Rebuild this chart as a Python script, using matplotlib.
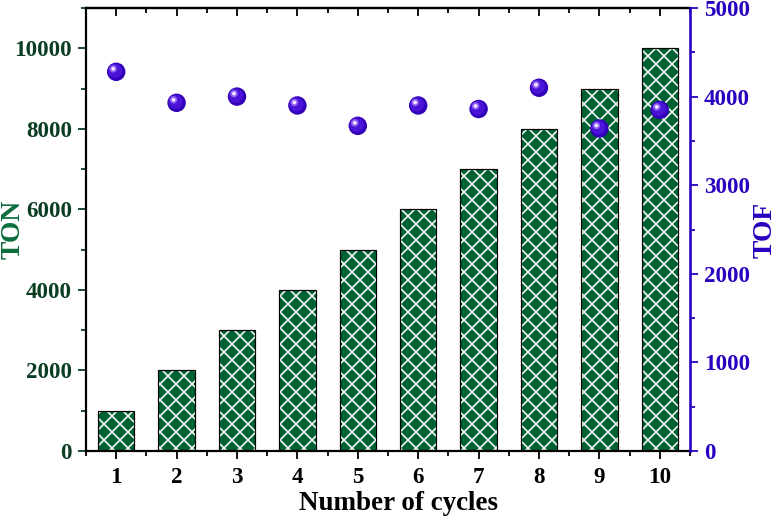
import matplotlib
matplotlib.use("Agg")
import matplotlib.pyplot as plt
import matplotlib.transforms as mtransforms
from matplotlib.ticker import MultipleLocator

cycles = [1, 2, 3, 4, 5, 6, 7, 8, 9, 10]
ton = [1000, 2000, 3000, 4000, 5000, 6000, 7000, 8000, 9000, 10000]
tof = [4280, 3930, 4000, 3900, 3670, 3900, 3860, 4100, 3640, 3850]

DPI = 144
plt.rcParams['font.family'] = ['Liberation Serif', 'DejaVu Serif']
plt.rcParams['font.weight'] = 'bold'
plt.rcParams['hatch.linewidth'] = 0.8
plt.rcParams['hatch.color'] = 'white'

green = '#006232'
green_lbl = '#0b6e3c'
green_tick = '#0a3d22'
blue = '#2a00c0'

fig = plt.figure(figsize=(780 / DPI, 518 / DPI), dpi=DPI)
ax = fig.add_axes([86 / 780, (518 - 451) / 518, (690 - 86) / 780, (451 - 8) / 518])

ax.bar(cycles, ton, width=0.6, color=green, edgecolor='white', hatch='xxx', linewidth=0, zorder=2)
ax.bar(cycles, ton, width=0.6, fill=False, edgecolor='black', linewidth=0.6, zorder=3)

ax.set_xlim(0.5, 10.5)
ax.set_ylim(0, 11000)
ax.xaxis.set_major_locator(MultipleLocator(1))
ax.xaxis.set_minor_locator(MultipleLocator(0.5))
ax.yaxis.set_major_locator(MultipleLocator(2000))
ax.yaxis.set_minor_locator(MultipleLocator(1000))

for s in ['left', 'bottom', 'top']:
    ax.spines[s].set_linewidth(1.1)
ax.spines['right'].set_visible(False)

ax.tick_params(axis='x', which='major', direction='out', length=4, width=0.9, labelsize=11.5, pad=4)
ax.tick_params(axis='x', which='minor', direction='out', length=2.5, width=0.9)
ax.tick_params(axis='x', which='both', top=False, labeltop=False)
ax.tick_params(axis='y', which='major', direction='out', length=4, width=0.9, labelsize=11.5,
               colors=green_tick, pad=3)
ax.tick_params(axis='y', which='minor', direction='out', length=2.5, width=0.9, colors=green_tick)

for lab in ax.get_xticklabels() + ax.get_yticklabels():
    lab.set_fontweight('bold')

ax.set_xlabel('Number of cycles', fontsize=13.5, fontweight='bold')
ax.xaxis.set_label_coords(0.518, -0.09)
ax.set_ylabel('TON', fontsize=13.8, fontweight='bold', color=green_lbl)
ax.yaxis.set_label_coords(-0.10, 0.5)

# top spine ticks pointing inward
top = ax.secondary_xaxis('top')
top.xaxis.set_major_locator(MultipleLocator(1))
top.xaxis.set_minor_locator(MultipleLocator(0.5))
top.tick_params(axis='x', which='major', direction='in', length=4, width=0.9, labeltop=False)
top.tick_params(axis='x', which='minor', direction='in', length=2.5, width=0.9)
top.spines['top'].set_linewidth(1.1)

ax2 = ax.twinx()
ax2.set_ylim(0, 5000)
ax2.yaxis.set_major_locator(MultipleLocator(1000))
ax2.yaxis.set_minor_locator(MultipleLocator(500))
ax2.spines['right'].set_color(blue)
ax2.spines['right'].set_linewidth(1.3)
for s in ['left', 'top', 'bottom']:
    ax2.spines[s].set_visible(False)
ax2.tick_params(axis='y', which='major', direction='out', length=4, width=0.9, labelsize=11.5,
                colors=blue, pad=3)
ax2.tick_params(axis='y', which='minor', direction='out', length=2.5, width=0.9, colors=blue)
for lab in ax2.get_yticklabels():
    lab.set_fontweight('bold')
ax2.set_ylabel('TOF', fontsize=13.8, fontweight='bold', color=blue)
ax2.yaxis.set_label_coords(1.104, 0.5)

# spheres
ax2.scatter(cycles, tof, s=85, color='#3200b8', edgecolors='none', zorder=5)
tr1 = mtransforms.offset_copy(ax2.transData, fig=fig, x=-1.0, y=1.0, units='dots')
ax2.scatter(cycles, tof, s=50, color='#4a14d8', edgecolors='none', zorder=6, transform=tr1)
tr2 = mtransforms.offset_copy(ax2.transData, fig=fig, x=-3.0, y=3.0, units='dots')
ax2.scatter(cycles, tof, s=14, color='#9060f0', edgecolors='none', zorder=7, transform=tr2)
ax2.scatter(cycles, tof, s=3.5, color='#f4eaff', edgecolors='none', zorder=8, transform=tr2)

fig.savefig('out.png', dpi=DPI)
